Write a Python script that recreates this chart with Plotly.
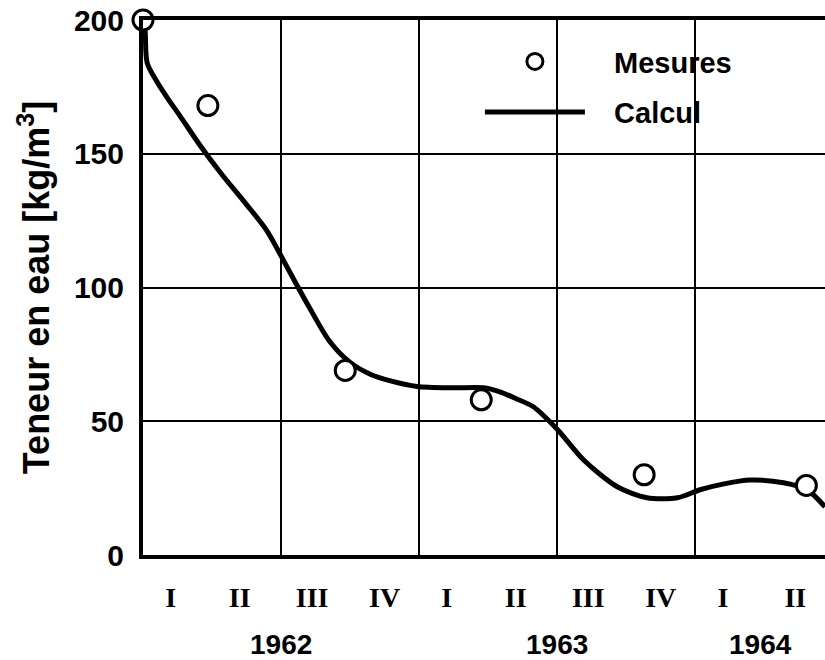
import plotly.graph_objects as go

# Quarter labels (x in quarter units from start of 1962)
quarter_pos = [0.4, 1.4, 2.45, 3.5, 4.4, 5.4, 6.45, 7.5, 8.4, 9.45]
quarter_labels = ["I", "II", "III", "IV", "I", "II", "III", "IV", "I", "II"]
year_pos = [2, 6, 8.95]
year_labels = ["1962", "1963", "1964"]

# Measurements
mes_x = [0, 0.94, 2.93, 4.9, 7.26, 9.61]
mes_y = [200, 168, 69, 58, 30, 26]

# Calculated curve
calc_x = [0, 0.03, 0.06, 0.2, 0.35, 0.54, 0.83, 1.12, 1.5, 1.8, 2.1, 2.4,
          2.7, 3.0, 3.3, 3.6, 3.97, 4.5, 4.93, 5.17, 5.4, 5.65, 6.0, 6.38, 6.87,
          7.3, 7.74, 8.07, 8.4, 8.8, 9.28, 9.62, 9.88]
calc_y = [200, 196, 184, 177, 171, 164, 153, 143, 131, 121, 107, 93,
          80, 72, 67.5, 65, 63, 62.5, 62.5, 61, 58.5, 55.5, 47, 35.6, 25.5,
          21.4, 21.4, 24.4, 26.5, 28, 27, 24.4, 18]

sans = "Liberation Sans"
serif = "Liberation Serif"
nb = "\u00a0\u00a0\u00a0"

fig = go.Figure()
fig.add_trace(go.Scatter(
    x=calc_x, y=calc_y, mode="lines", name=nb + "Calcul", legendgroup="b",
    legendrank=2,
    line=dict(color="black", width=5, shape="spline", smoothing=0.8),
))
fig.add_trace(go.Scatter(
    x=mes_x, y=mes_y, mode="markers", name=nb + "Mesures", legendgroup="a",
    legendrank=1,
    marker=dict(symbol="circle", size=20, color="white",
                line=dict(color="black", width=3)),
    cliponaxis=False,
))

for yp, yl in zip(year_pos, year_labels):
    fig.add_annotation(x=yp, xref="x", y=-0.168, yref="paper",
                       text=yl, showarrow=False, yanchor="middle",
                       font=dict(family=sans, size=28, color="black", weight="bold"))

fig.update_layout(
    width=825, height=660,
    margin=dict(l=143, r=0, t=20, b=105),
    paper_bgcolor="white", plot_bgcolor="white",
    showlegend=True,
    legend=dict(x=0.494, y=0.97, xanchor="left", yanchor="top",
                bgcolor="rgba(0,0,0,0)", traceorder="grouped",
                itemwidth=100, tracegroupgap=10,
                font=dict(family=sans, size=29, color="black", weight="bold")),
    xaxis=dict(
        range=[0, 9.88], tickmode="array", tickvals=quarter_pos, ticktext=quarter_labels,
        showgrid=False, zeroline=False,
        minor=dict(tickmode="linear", tick0=0, dtick=2, showgrid=True,
                   gridcolor="black", gridwidth=2, ticks=""),
        showline=True, linecolor="black", linewidth=4, mirror=True,
        ticks="", ticklabelstandoff=14,
        tickfont=dict(family=serif, size=28, color="black", weight="bold"),
    ),
    yaxis=dict(
        range=[0, 200], tickmode="linear", tick0=0, dtick=50,
        showgrid=True, gridcolor="black", gridwidth=2, zeroline=False,
        showline=True, linecolor="black", linewidth=4,
        ticks="", ticklabelstandoff=9,
        tickfont=dict(family=sans, size=30, color="black", weight="bold"),
        title=dict(text="Teneur en eau [kg/m<sup>3</sup>]", standoff=14,
                   font=dict(family=sans, size=36, color="black", weight="bold")),
    ),
)

fig.write_html("out.html")
